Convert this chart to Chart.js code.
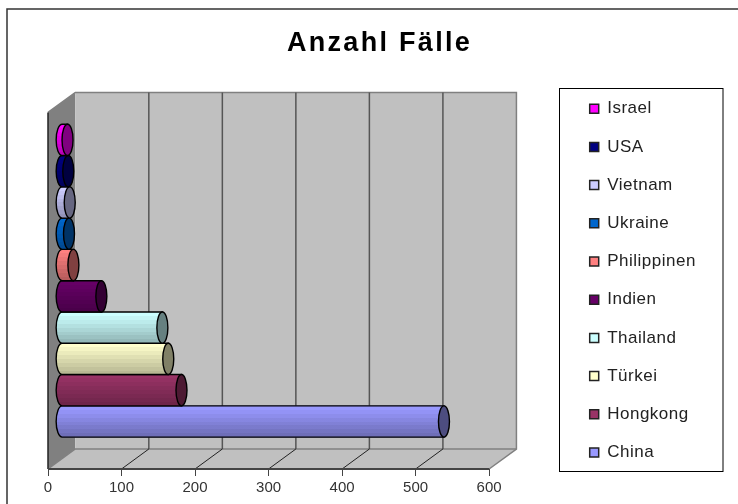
<!DOCTYPE html>
<html><head><meta charset="utf-8">
<script src="https://cdn.jsdelivr.net/npm/chart.js@4"></script>
<style>html,body{margin:0;padding:0;background:#fff}#w{position:relative;width:738px;height:504px}</style>
</head><body><div id="w"><canvas id="c" width="738" height="504"></canvas></div>
<script>
const countries = ['Israel','USA','Vietnam','Ukraine','Philippinen','Indien','Thailand','Türkei','Hongkong','China'];
const cases = [8,9,11,10,16,54,137,145,163,520];
const colors = ['#FF00FF','#000080','#CCCCFF','#0066CC','#FF8080','#660066','#CCFFFF','#FFFFCC','#993366','#9999FF'];
const category = ['Anzahl Fälle'];
const titleText = 'Anzahl Fälle';

const DX = 27.3, DY = -20;
const RX = 5.5, LRX = 6;
function shade(hex,f){const n=parseInt(hex.slice(1),16);
  return 'rgb('+[(n>>16)&255,(n>>8)&255,n&255].map(v=>Math.round(v*f)).join(',')+')';}
function spaced(ctx,obj,key,sp){
  if(obj['_sp_'+key]) return;
  obj['_sp_'+key]=true;
  const d=obj[key];
  obj[key]=function(){ctx.save();ctx.letterSpacing=sp;const r=d.apply(this,arguments);ctx.restore();return r;};
}

const scene = {
  id:'scene',
  afterLayout(chart){
    const ctx=chart.ctx;
    const l = chart.legend;
    if(l){const dx = 568.5 - l.left, dy = 79 - l.top;
      l.left+=dx;l.right+=dx;l.top+=dy;l.bottom+=dy;spaced(ctx,l,'draw','0.5px');}
    const t = chart.titleBlock;
    if(t){const dx = 379.5-(t.left+t.right)/2;t.left+=dx;t.right+=dx;
      const dy = 43.5-(t.top+t.bottom)/2;t.top+=dy;t.bottom+=dy;spaced(ctx,t,'draw','2.3px');}
  },
  beforeDraw(chart){
    const {ctx,chartArea:a,scales:{x}} = chart;
    const L=a.left,R=a.right,T=a.top,B=a.bottom;
    ctx.save();
    // frame (open at the right and bottom)
    ctx.strokeStyle='#333';ctx.lineWidth=1.5;
    ctx.beginPath();ctx.moveTo(7,504);ctx.lineTo(7,9);ctx.lineTo(738,9);ctx.stroke();
    // side wall
    ctx.fillStyle='#808080';ctx.beginPath();ctx.moveTo(L,T);ctx.lineTo(L+DX,T+DY);ctx.lineTo(L+DX,B+DY);ctx.lineTo(L,B);ctx.closePath();ctx.fill();
    // floor
    ctx.fillStyle='#C0C0C0';ctx.beginPath();ctx.moveTo(L,B);ctx.lineTo(L+DX,B+DY);ctx.lineTo(R+DX,B+DY);ctx.lineTo(R,B);ctx.closePath();ctx.fill();
    // back wall
    ctx.fillRect(L+DX,T+DY,R-L,B-T);
    // wall outline
    ctx.strokeStyle='#808080';ctx.lineWidth=1.5;
    ctx.beginPath();ctx.moveTo(L,T);ctx.lineTo(L+DX,T+DY);ctx.lineTo(R+DX,T+DY);ctx.lineTo(R+DX,B+DY);ctx.lineTo(R,B);ctx.stroke();
    ctx.beginPath();ctx.moveTo(L,B);ctx.lineTo(L+DX,B+DY);ctx.lineTo(R+DX,B+DY);ctx.stroke();
    // grid on wall + floor
    x.ticks.forEach(tk=>{
      const px=x.getPixelForValue(tk.value);
      if(tk.value>0 && tk.value<600){
        ctx.strokeStyle='#555';ctx.lineWidth=1.5;
        ctx.beginPath();ctx.moveTo(px+DX,T+DY);ctx.lineTo(px+DX,B+DY);ctx.stroke();
        ctx.strokeStyle='#222';ctx.lineWidth=1;
        ctx.beginPath();ctx.moveTo(px,B);ctx.lineTo(px+DX,B+DY);ctx.stroke();
      }
    });
    // left edge + axis
    ctx.strokeStyle='#222';ctx.lineWidth=1.5;
    ctx.beginPath();ctx.moveTo(L,T);ctx.lineTo(L,B);ctx.stroke();
    ctx.strokeStyle='#444';ctx.lineWidth=2;
    ctx.beginPath();ctx.moveTo(L,B);ctx.lineTo(R,B);ctx.stroke();
    // legend frame
    ctx.strokeStyle='#000';ctx.lineWidth=1;ctx.strokeRect(559.5,88.5,163.5,383);
    ctx.restore();
  },
  beforeDatasetsDraw(chart){
    chart.ctx.save();
    chart.ctx.translate(DX/2,DY/2);
  },
  afterDatasetDraw(chart,args){
    const {ctx} = chart, el = args.meta.data[0], col = colors[args.index];
    const top = el.y-el.height/2, h = el.height, x0 = el.base, x1 = el.x, cy = el.y;
    ctx.save();
    // cylinder body with left bulge
    ctx.beginPath();
    ctx.ellipse(x0,cy,LRX,h/2,0,Math.PI/2,Math.PI*1.5);
    ctx.lineTo(x1,top);ctx.lineTo(x1,top+h);ctx.closePath();
    ctx.fillStyle=col;ctx.fill();
    const g = ctx.createLinearGradient(0,top,0,top+h);
    const bands=8;
    for(let i=0;i<bands;i++){
      const a='rgba(0,0,0,'+(0.28*i/(bands-1)).toFixed(3)+')';
      g.addColorStop(i/bands,a);g.addColorStop((i+1)/bands,a);
    }
    ctx.fillStyle=g;ctx.fill();
    ctx.strokeStyle='#000';ctx.lineWidth=1.4;ctx.stroke();
    // end cap
    ctx.beginPath();ctx.ellipse(x1,cy,RX,h/2,0,0,Math.PI*2);
    ctx.fillStyle=shade(col,0.5);ctx.fill();ctx.stroke();
    ctx.restore();
  },
  afterDatasetsDraw(chart){chart.ctx.restore();}
};

new Chart(document.getElementById('c'),{
  type:'bar',
  plugins:[scene],
  data:{
    labels:category,
    datasets:countries.map((n,i)=>({label:n,data:[cases[i]],backgroundColor:colors[i],borderColor:'#000',borderWidth:0,
      barPercentage:1,categoryPercentage:0.8775}))
  },
  options:{
    indexAxis:'y',responsive:false,animation:false,
    layout:{padding:{left:48,top:80,right:117,bottom:4}},
    scales:{
      x:{min:0,max:600,position:'bottom',
        border:{display:false},
        grid:{display:true,drawOnChartArea:false,drawTicks:true,tickLength:7,color:'#444',lineWidth:1},
        ticks:{stepSize:100,maxRotation:0,color:'#333',padding:3,font:{family:'"Liberation Sans"',size:15}}},
      y:{display:false}
    },
    plugins:{
      title:{display:true,text:titleText,color:'#000',font:{family:'"Liberation Sans"',size:27,weight:'bold'},padding:{top:0,bottom:0}},
      legend:{position:'right',align:'start',
        labels:{color:'#222',boxWidth:9,boxHeight:9,padding:21.2,font:{family:'"Liberation Sans"',size:17},
          generateLabels(chart){
            return Chart.defaults.plugins.legend.labels.generateLabels(chart).map(it=>Object.assign(it,{lineWidth:1.5,strokeStyle:'#222'}));
          }}},
      tooltip:{enabled:false}
    }
  }
});
</script></body></html>
